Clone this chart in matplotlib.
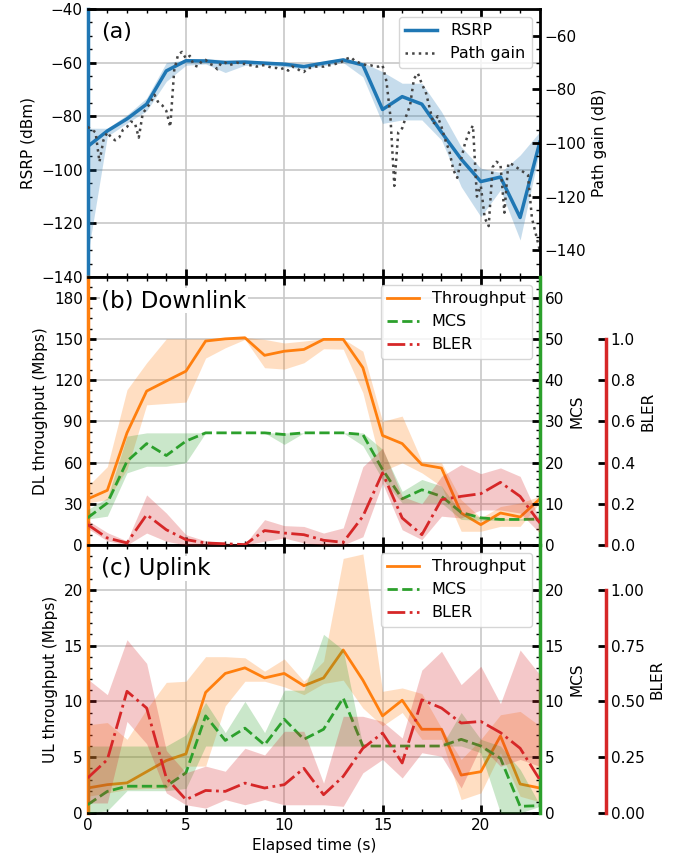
import numpy as np
import matplotlib
matplotlib.use('Agg')
import matplotlib.pyplot as plt
from matplotlib.ticker import AutoMinorLocator, MultipleLocator, FormatStrFormatter

# ---------------- data ----------------
t = np.arange(24)  # elapsed time, s

# (a) RSRP (dBm): mean and min/max band
rsrp = [-91.3, -85.5, -81.0, -75.5, -63.1, -59.3, -59.4, -60.0, -59.8, -60.2, -60.6, -61.5,
        -60.2, -59.0, -60.9, -77.5, -72.7, -75.5, -86.0, -96.0, -104.4, -102.7, -117.8, -89.7]
rsrp_hi = [-84.5, -84.5, -79.5, -73.2, -60.0, -59.0, -58.5, -59.0, -59.0, -59.5, -59.8, -60.5,
           -59.5, -58.3, -60.0, -63.4, -67.7, -67.7, -78.3, -91.4, -99.4, -101.0, -94.5, -85.8]
rsrp_lo = [-132.0, -87.5, -82.6, -78.0, -67.0, -61.0, -60.5, -63.7, -61.0, -61.0, -61.5, -62.5,
           -61.2, -60.0, -65.3, -82.7, -81.4, -81.4, -88.9, -106.3, -117.5, -107.5, -126.2, -92.6]

# path gain (dB), one sample every 0.2 s
pg_t = np.linspace(0, 23, 116)
path_gain = [-94, -95, -96, -107, -99, -96, -98, -99, -98, -95,
             -94, -92, -92.5, -98, -89, -87, -85, -82, -85, -86,
             -88, -94, -73, -67, -66, -68.5, -67.5, -71, -71.5, -69.5,
             -69, -70.5, -71, -72.5, -70, -70, -71, -70.5, -70, -70.5,
             -70.5, -71, -71, -71.5, -71, -71, -71.5, -72, -72, -72.5,
             -72, -73, -71.5, -72, -73, -73.5, -72, -72, -71.5, -71.5,
             -71.5, -71, -71, -70.5, -70, -69.5, -68.5, -68, -69.5, -70,
             -70.5, -71, -71, -71.5, -71.5, -71, -77, -90, -116, -96,
             -94.5, -90, -86, -76, -74, -78, -81, -87, -93, -90,
             -94, -99, -103, -110, -113, -106, -100, -96, -93.5, -120,
             -116, -128, -131, -109, -107, -108, -126, -107.5, -108, -109,
             -110, -111, -112, -128, -134, -140]

# (b) downlink
dl_tput = [33.5, 39.8, 81.6, 112.0, 119.3, 126.5, 148.4, 150.0, 150.8, 138.0, 141.0, 142.3,
           149.6, 149.6, 129.0, 79.7, 73.8, 58.5, 56.0, 23.3, 14.8, 23.3, 20.4, 33.5]
dl_tput_hi = [42.7, 57.0, 113.0, 132.6, 150.0, 150.0, 150.0, 150.0, 151.0, 149.6, 147.0, 148.4,
              150.0, 150.0, 141.0, 90.0, 93.8, 61.0, 59.8, 33.0, 19.7, 28.0, 30.6, 35.5]
dl_tput_lo = [30.6, 33.0, 55.0, 102.0, 103.0, 104.0, 136.0, 143.5, 149.6, 129.0, 128.0, 132.6,
              142.8, 142.5, 110.8, 53.7, 59.8, 52.5, 42.7, 10.0, 10.0, 13.6, 13.6, 30.6]
dl_mcs = [6.6, 10.2, 20.3, 24.6, 21.7, 25.2, 27.2, 27.2, 27.2, 27.2, 26.8, 27.2,
          27.2, 27.2, 26.8, 18.3, 11.2, 13.4, 11.8, 7.9, 6.6, 6.2, 6.2, 6.3]
dl_mcs_hi = [8.6, 11.4, 26.4, 27.2, 27.2, 27.2, 27.2, 27.2, 27.2, 27.2, 27.2, 27.2,
             27.2, 27.2, 27.2, 23.2, 13.0, 15.9, 14.3, 7.8, 6.8, 6.4, 6.4, 6.4]
dl_mcs_lo = [6.3, 7.0, 17.5, 19.1, 19.1, 20.0, 27.2, 27.2, 27.2, 27.2, 24.4, 27.2,
             27.2, 27.2, 24.1, 15.9, 10.2, 10.2, 10.2, 6.2, 6.0, 6.0, 6.0, 6.0]
dl_bler = [0.099, 0.034, 0.010, 0.147, 0.074, 0.026, 0.010, 0.006, 0.002, 0.070, 0.058, 0.050,
           0.023, 0.013, 0.139, 0.350, 0.131, 0.050, 0.220, 0.236, 0.249, 0.304, 0.236, 0.107]
dl_bler_hi = [0.12, 0.06, 0.02, 0.243, 0.155, 0.05, 0.02, 0.01, 0.005, 0.123, 0.094, 0.09,
              0.058, 0.083, 0.38, 0.47, 0.236, 0.20, 0.333, 0.39, 0.346, 0.374, 0.333, 0.123]
dl_bler_lo = [0.08, 0.02, 0.0, 0.058, 0.018, 0.0, 0.0, 0.0, 0.0, 0.018, 0.034, 0.01,
              0.0, 0.0, 0.04, 0.30, 0.074, 0.026, 0.14, 0.131, 0.17, 0.17, 0.155, 0.058]

# (c) uplink
ul_tput = [2.24, 2.54, 2.7, 3.7, 4.7, 5.3, 10.8, 12.5, 13.0, 12.1, 12.5, 11.4,
           12.1, 14.6, 11.9, 8.7, 10.1, 7.5, 7.5, 3.4, 3.7, 6.9, 2.6, 2.24]
ul_tput_hi = [7.9, 8.1, 6.6, 9.3, 11.7, 11.8, 14.0, 14.0, 13.9, 12.7, 13.8, 11.8,
              13.6, 22.8, 23.2, 10.9, 11.2, 10.7, 7.6, 4.8, 6.6, 8.8, 9.1, 7.8]
ul_tput_lo = [1.5, 1.8, 2.1, 2.2, 2.2, 4.2, 4.2, 9.6, 11.8, 11.8, 11.3, 10.6,
              11.6, 11.9, 9.4, 7.8, 9.0, 6.6, 6.6, 1.2, 1.8, 5.4, 1.5, 1.0]
ul_mcs = [0.75, 1.94, 2.4, 2.4, 2.4, 3.6, 8.7, 6.5, 7.6, 6.1, 8.4, 6.6,
          7.5, 10.3, 6.0, 6.0, 6.0, 6.0, 6.0, 6.6, 6.0, 4.9, 0.6, 0.66]
ul_mcs_hi = [6.0, 6.0, 6.0, 6.0, 6.0, 7.0, 9.9, 7.2, 10.0, 7.2, 11.0, 11.0,
             16.0, 14.6, 6.0, 6.0, 6.0, 6.0, 6.0, 9.0, 6.6, 6.0, 3.9, 0.75]
ul_mcs_lo = [0.0, 0.2, 2.0, 2.0, 2.0, 2.2, 6.0, 6.0, 6.0, 6.0, 6.0, 6.0,
             6.0, 6.0, 6.0, 6.0, 6.0, 6.0, 6.0, 6.0, 5.4, 0.0, 0.0, 0.6]
ul_bler = [0.157, 0.239, 0.545, 0.47, 0.157, 0.06, 0.101, 0.097, 0.134, 0.112, 0.127, 0.20,
           0.082, 0.164, 0.29, 0.358, 0.224, 0.507, 0.47, 0.403, 0.41, 0.36, 0.29, 0.149]
ul_bler_hi = [0.60, 0.53, 0.776, 0.67, 0.28, 0.18, 0.21, 0.187, 0.29, 0.26, 0.366, 0.366,
              0.134, 0.433, 0.433, 0.41, 0.336, 0.64, 0.724, 0.575, 0.657, 0.49, 0.73, 0.62]
ul_bler_lo = [0.045, 0.045, 0.41, 0.31, 0.09, 0.037, 0.022, 0.06, 0.037, 0.06, 0.037, 0.037,
              0.037, 0.03, 0.18, 0.24, 0.157, 0.27, 0.254, 0.112, 0.30, 0.209, 0.24, 0.209]

# ---------------- figure ----------------
plt.rcParams['font.size'] = 11
FA = 0.25
LEG_FS = 11.5

fig = plt.figure(figsize=(6.85, 8.64), dpi=100)
L, W, H = 0.128, 0.660, 0.3102
axA = fig.add_axes([L, 0.059 + 2 * H, W, H])
axB = fig.add_axes([L, 0.059 + H, W, H], sharex=axA)
axC = fig.add_axes([L, 0.059, W, H], sharex=axA)


def style_main(ax, col):
    ax.grid(True, color='#c8c8c8', lw=1.2)
    ax.set_axisbelow(True)
    ax.tick_params(which='both', direction='in', top=True, right=False)
    ax.tick_params(which='major', length=6, width=2)
    ax.tick_params(which='minor', length=3, width=1)
    ax.xaxis.set_minor_locator(MultipleLocator(1))
    ax.yaxis.set_minor_locator(AutoMinorLocator())
    ax.spines['left'].set_color(col)
    ax.spines['left'].set_linewidth(2.5)
    for s in ['top', 'bottom']:
        ax.spines[s].set_linewidth(2)


def style_twin(ax, col, lw=2.5):
    for s in ['left', 'top', 'bottom']:
        ax.spines[s].set_visible(False)
    ax.tick_params(which='both', direction='in')
    ax.tick_params(which='major', length=6, width=2)
    ax.tick_params(which='minor', length=3, width=1)
    ax.spines['right'].set_color(col)
    ax.spines['right'].set_linewidth(lw)
    ax.yaxis.set_minor_locator(AutoMinorLocator())


# ---- (a) RSRP / path gain
axA.fill_between(t, rsrp_lo, rsrp_hi, color='C0', alpha=FA, lw=0)
lnA1, = axA.plot(t, rsrp, color='C0', lw=2.5, label='RSRP')
axA.set_ylim(-140, -40)
axA.set_xlim(0, 23)
axA.set_ylabel('RSRP (dBm)')
style_main(axA, 'C0')
axA.yaxis.set_major_locator(MultipleLocator(20))
axA.yaxis.set_minor_locator(MultipleLocator(5))
axA.tick_params(labelbottom=False)
axA.text(0.03, 0.95, '(a)', transform=axA.transAxes, fontsize=16, va='top')

axA2 = axA.twinx()
lnA2, = axA2.plot(pg_t, path_gain, color='#444444', ls=':', lw=1.8, label='Path gain')
axA2.set_ylim(-150, -50)
axA2.set_ylabel('Path gain (dB)')
style_twin(axA2, 'black', lw=2)
axA2.yaxis.set_major_locator(MultipleLocator(20))
axA2.yaxis.set_minor_locator(MultipleLocator(5))
axA2.legend(handles=[lnA1, lnA2], loc='upper right', fontsize=LEG_FS)


# ---- (b) downlink / (c) uplink
def link_panel(ax, tput, tput_lo, tput_hi, mcs, mcs_lo, mcs_hi,
               bler, bler_lo, bler_hi, ymax, ystep, mcs_max, mcs_step,
               bler_top, bler_step, tag, ylabel):
    ax.fill_between(t, tput_lo, tput_hi, color='C1', alpha=FA, lw=0)
    l1, = ax.plot(t, tput, color='C1', lw=2, label='Throughput')
    ax.set_ylim(0, ymax)
    ax.set_ylabel(ylabel)
    style_main(ax, 'C1')
    ax.yaxis.set_major_locator(MultipleLocator(ystep))
    ax.text(0.03, 0.955, tag, transform=ax.transAxes, fontsize=16.5, va='top',
            bbox=dict(facecolor='white', edgecolor='none', pad=1), zorder=5)

    axm = ax.twinx()
    axm.fill_between(t, mcs_lo, mcs_hi, color='C2', alpha=FA, lw=0)
    l2, = axm.plot(t, mcs, color='C2', ls='--', lw=2, label='MCS')
    axm.set_ylim(0, mcs_max)
    axm.set_ylabel('MCS')
    style_twin(axm, 'C2')
    axm.yaxis.set_major_locator(MultipleLocator(mcs_step))

    axb = ax.twinx()
    axb.fill_between(t, bler_lo, bler_hi, color='C3', alpha=FA, lw=0)
    l3, = axb.plot(t, bler, color='C3', ls='-.', lw=2, label='BLER')
    axb.set_ylim(0, bler_top)
    style_twin(axb, 'C3')
    axb.spines['right'].set_position(('axes', 1.146))
    axb.spines['right'].set_bounds(0, 1)
    axb.set_yticks(np.arange(0, 1.0001, bler_step))
    axb.yaxis.set_minor_locator(plt.NullLocator())
    axb.set_ylabel('BLER')
    axb.legend(handles=[l1, l2, l3], loc='upper right', fontsize=LEG_FS)
    return axb


link_panel(axB, dl_tput, dl_tput_lo, dl_tput_hi, dl_mcs, dl_mcs_lo, dl_mcs_hi,
           dl_bler, dl_bler_lo, dl_bler_hi, 195, 30, 65, 10, 1.3, 0.2,
           '(b) Downlink', 'DL throughput (Mbps)')
axB.tick_params(labelbottom=False)

axbC = link_panel(axC, ul_tput, ul_tput_lo, ul_tput_hi, ul_mcs, ul_mcs_lo, ul_mcs_hi,
                  ul_bler, ul_bler_lo, ul_bler_hi, 24, 5, 24, 5, 1.2, 0.25,
                  '(c) Uplink', 'UL throughput (Mbps)')
axbC.yaxis.set_major_formatter(FormatStrFormatter('%.2f'))
axC.set_xlabel('Elapsed time (s)')
axC.xaxis.set_major_locator(MultipleLocator(5))

fig.savefig('out.png', dpi=100)
